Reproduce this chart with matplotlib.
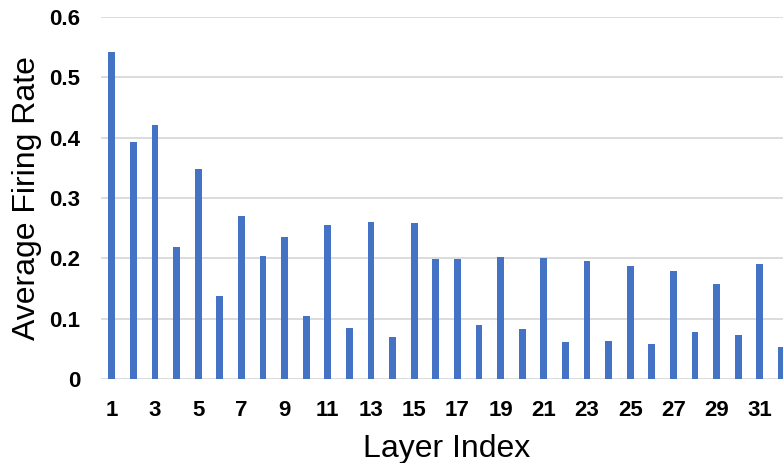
import numpy as np
import matplotlib
matplotlib.use("Agg")
import matplotlib.pyplot as plt

plt.rcParams['font.family'] = ['Liberation Sans', 'DejaVu Sans']

# Average firing rate per layer
layers = list(range(1, 33))
rates = [0.541, 0.393, 0.420, 0.219, 0.348, 0.138, 0.270, 0.204,
         0.236, 0.105, 0.255, 0.085, 0.261, 0.070, 0.259, 0.199,
         0.199, 0.090, 0.202, 0.083, 0.201, 0.062, 0.196, 0.063,
         0.188, 0.058, 0.179, 0.078, 0.158, 0.073, 0.191, 0.053]
yticks = [0, 0.1, 0.2, 0.3, 0.4, 0.5, 0.6]
ytick_labels = ['0', '0.1', '0.2', '0.3', '0.4', '0.5', '0.6']

fig = plt.figure(figsize=(7.83, 4.63), dpi=100)
ax = fig.add_axes([0.129, 0.1808, 0.8827, 0.7832])

ax.bar(layers, rates, width=0.31, color='#4472C4', zorder=3)

ax.set_xlim(0.5, 32.5)
ax.set_ylim(0, 0.6)
ax.set_yticks(yticks)
ax.set_yticklabels(ytick_labels)
ax.set_xticks(layers[::2])
ax.set_xticklabels([str(l) for l in layers[::2]])

ax.grid(axis='y', color='#D9D9D9', linewidth=1.3, zorder=0)
ax.set_axisbelow(True)
for s in ax.spines.values():
    s.set_visible(False)
ax.tick_params(axis='both', length=0, labelsize=16)
ax.tick_params(axis='y', pad=15)
ax.tick_params(axis='x', pad=15)
for lab in ax.get_xticklabels() + ax.get_yticklabels():
    lab.set_fontweight('bold')

ax.set_ylabel('Average Firing Rate', fontsize=23)
ax.set_xlabel('Layer Index', fontsize=23)
ax.yaxis.set_label_coords(-0.085, 0.5)
ax.xaxis.set_label_coords((447 - 101) / (0.8827 * 783), -0.15)

fig.savefig('out.png', dpi=100)
